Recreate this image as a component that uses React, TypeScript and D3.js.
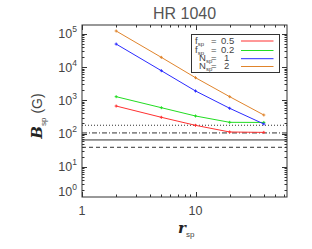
import React from "react";
import * as d3 from "d3";

const rValues = [2, 5, 10, 20, 40];
const seriesF05 = [670, 307, 176, 111, 108];
const seriesF02 = [1280, 597, 336, 217, 215];
const seriesN1 = [49000, 7740, 1900, 573, 193];
const seriesN2 = [121000, 19500, 4770, 1280, 360];
const refLines = [177, 104, 64, 38.5];
const refDash = ["1,2", "5,2,1,2", "", "4,3"];
const legendLabels = [
  { sym: "f", val: "0.5", color: "#ff3030" },
  { sym: "f", val: "0.2", color: "#22dd22" },
  { sym: "N", val: "1", color: "#2b2bff" },
  { sym: "N", val: "2", color: "#e0842c" },
];
const yTickExps = [0, 1, 2, 3, 4, 5];
const xTickLabels = [1, 10];

const W = 312, H = 249;
const L = 82, R = 287, T = 25, B = 197;

export default function App() {
  const x = d3.scaleLog().domain([1, Math.pow(10, (R - L) / 113.5)]).range([L, R]);
  const dec = 33.25;
  const y = d3
    .scaleLog()
    .domain([Math.pow(10, 2 - (B - 133.5) / dec), Math.pow(10, 2 + (133.5 - T) / dec)])
    .range([B, T]);
  const [y0, y1] = y.domain();
  const [x0, x1] = x.domain();
  const line = d3
    .line<[number, number]>()
    .x((d) => x(d[0]))
    .y((d) => y(d[1]));
  const series = [seriesF05, seriesF02, seriesN1, seriesN2];

  const yMinor: { v: number; major: boolean }[] = [];
  for (let e = -1; e <= 6; e++) {
    for (let m = 1; m <= 9; m++) {
      const v = m * Math.pow(10, e);
      if (v >= y0 && v <= y1) yMinor.push({ v, major: m === 1 });
    }
  }
  const xMinor: { v: number; major: boolean }[] = [];
  for (let e = 0; e <= 2; e++) {
    for (let m = 1; m <= 9; m++) {
      const v = m * Math.pow(10, e);
      if (v >= x0 && v <= x1 * 1.0001) xMinor.push({ v, major: m === 1 });
    }
  }
  const axisColor = "#333";
  const textColor = "#444";
  const font = "'Liberation Sans', Arial, sans-serif";

  return (
    <svg
      width={W}
      height={H}
      style={{ position: "absolute", left: 0, top: 0, background: "#fff" }}
      fontFamily={font}
    >
      <rect x={0} y={0} width={W} height={H} fill="#fff" />
      <text x={(L + R) / 2} y={19} textAnchor="middle" fontSize={16} fill="#555">
        HR 1040
      </text>

      {/* reference lines */}
      {refLines.map((v, i) => (
        <line
          key={"ref" + i}
          x1={L}
          x2={R}
          y1={y(v)}
          y2={y(v)}
          stroke="#333"
          strokeWidth={1}
          strokeDasharray={refDash[i] || undefined}
        />
      ))}

      {/* series */}
      {series.map((s, i) => {
        const pts: [number, number][] = rValues.map((r, j) => [r, s[j]]);
        return (
          <g key={"s" + i}>
            <path d={line(pts) || ""} fill="none" stroke={legendLabels[i].color} strokeWidth={1} />
            {pts.map((p, j) => (
              <g key={j} stroke={legendLabels[i].color} strokeWidth={1}>
                <line x1={x(p[0]) - 1.5} x2={x(p[0]) + 1.5} y1={y(p[1])} y2={y(p[1])} />
                <line x1={x(p[0])} x2={x(p[0])} y1={y(p[1]) - 1.5} y2={y(p[1]) + 1.5} />
              </g>
            ))}
          </g>
        );
      })}

      {/* frame */}
      <rect x={L} y={T} width={R - L} height={B - T} fill="none" stroke={axisColor} strokeWidth={1} />

      {/* y ticks */}
      {yMinor.map((t, i) => {
        const len = t.major ? 5 : 2.5;
        const yy = Math.round(y(t.v)) + 0.5;
        return (
          <g key={"yt" + i} stroke={axisColor} strokeWidth={1}>
            <line x1={L} x2={L + len} y1={yy} y2={yy} />
            <line x1={R} x2={R - len} y1={yy} y2={yy} />
          </g>
        );
      })}
      {/* x ticks */}
      {xMinor.map((t, i) => {
        const len = t.major ? 5 : 2.5;
        const xx = Math.round(x(t.v)) + 0.5;
        return (
          <g key={"xt" + i} stroke={axisColor} strokeWidth={1}>
            <line x1={xx} x2={xx} y1={B} y2={B - len} />
            <line x1={xx} x2={xx} y1={T} y2={T + len} />
          </g>
        );
      })}

      {/* y tick labels */}
      {yTickExps.map((e) => {
        const yy = Math.min(y(Math.pow(10, e)), B - 6);
        return (
          <text key={"yl" + e} x={77} y={yy + 4.5} textAnchor="end" fontSize={12.5} fill={textColor}>
            10
            <tspan fontSize={8.5} dy={-6}>
              {e}
            </tspan>
          </text>
        );
      })}
      {/* x tick labels */}
      {xTickLabels.map((v) => (
        <text key={"xl" + v} x={x(v)} y={214.5} textAnchor="middle" fontSize={12.5} fill={textColor}>
          {v}
        </text>
      ))}

      {/* x title */}
      <text x={178} y={233} fontSize={15} fill="#222">
        <tspan fontFamily="'DejaVu Serif', serif" fontStyle="italic" fontWeight="bold">
          r
        </tspan>
        <tspan fontSize={8} dy={4} fill={textColor}>
          sp
        </tspan>
      </text>

      {/* y title */}
      <text transform="translate(42,116) rotate(-90)" textAnchor="middle" fontSize={14} fill="#222">
        <tspan fontFamily="'DejaVu Serif', serif" fontStyle="italic" fontWeight="bold" fontSize={15}>
          B
        </tspan>
        <tspan fontSize={8} dy={4} fill={textColor}>
          sp
        </tspan>
        <tspan dy={-4} fill={textColor}>
          {"  (G)"}
        </tspan>
      </text>

      {/* legend */}
      <rect x={191.5} y={34.5} width={88} height={38} fill="#fff" stroke={axisColor} strokeWidth={1} />
      {legendLabels.map((lg, i) => {
        const rowY = [44, 52.5, 60.5, 68.5][i];
        const lineY = [41, 50.5, 58.7, 66.5][i];
        const isN = lg.sym === "N";
        return (
          <g key={"lg" + i}>
            <text x={isN ? 199 : 195} y={rowY} fontSize={9.5} fill={textColor}>
              {lg.sym}
              <tspan fontSize={6} dy={2}>
                sp
              </tspan>
            </text>
            <text x={211} y={rowY} fontSize={9.5} fill={textColor}>
              =
            </text>
            <text x={isN ? 224 : 221} y={rowY} fontSize={9.5} fill={textColor}>
              {lg.val}
            </text>
            <line x1={241} x2={273.5} y1={lineY} y2={lineY} stroke={lg.color} strokeWidth={1} />
          </g>
        );
      })}
    </svg>
  );
}
